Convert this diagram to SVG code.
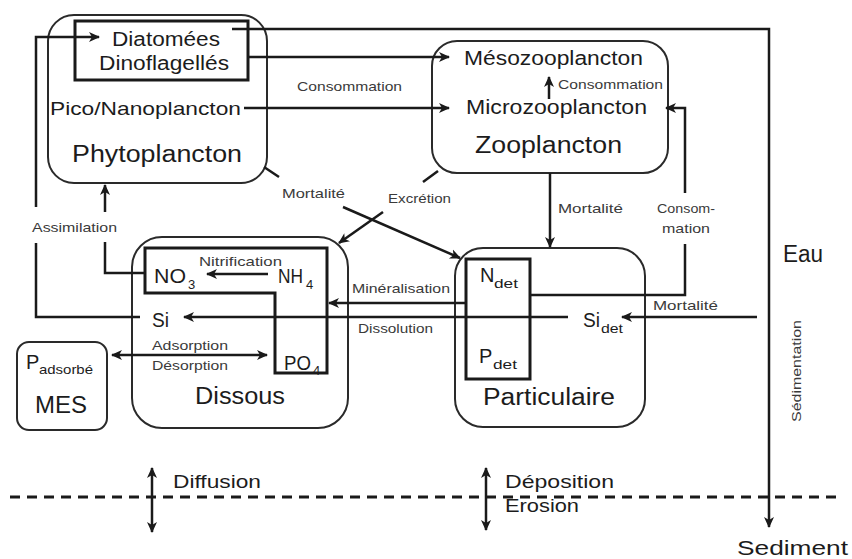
<svg xmlns="http://www.w3.org/2000/svg" width="852" height="559" viewBox="0 0 852 559">
<defs>
<style>
text{font-family:"Liberation Sans",Arial,sans-serif;fill:#1c1c1c}
.big{font-size:23px}
.mid{font-size:20px}
.lbl{font-size:13.5px;fill:#3a3a3a}
.sub{font-size:13px}
.box{stroke:#2a2a2a;stroke-width:2;fill:#fff}
.ibox{stroke:#1a1a1a;stroke-width:3;fill:none}
.ln{stroke:#1a1a1a;stroke-width:2.5;fill:none}
.arr{marker-end:url(#ah)}
.dbl{marker-end:url(#ah);marker-start:url(#ah)}
</style>
<marker id="ah" markerUnits="userSpaceOnUse" markerWidth="12" markerHeight="12" refX="10" refY="5" orient="auto-start-reverse" viewBox="0 0 12 10">
<path d="M0,0 L11,5 L0,10 L3,5 Z" fill="#1a1a1a"/>
</marker>
</defs>
<rect width="852" height="559" fill="#fff"/>

<g id="phytoplancton">
<rect class="box" x="48" y="15" width="219" height="168" rx="26"/>
<rect class="ibox" x="75" y="21" width="173" height="59"/>
<text class="mid" x="112" y="46" textLength="108" lengthAdjust="spacingAndGlyphs">Diatomées</text>
<text class="mid" x="99" y="70" textLength="130" lengthAdjust="spacingAndGlyphs">Dinoflagellés</text>
<text x="50" y="115" style="font-size:18.5px" textLength="191" lengthAdjust="spacingAndGlyphs">Pico/Nanoplancton</text>
<text class="big" x="72" y="162" textLength="170" lengthAdjust="spacingAndGlyphs">Phytoplancton</text>
</g>

<g id="zooplancton">
<rect class="box" x="432" y="41" width="236" height="132" rx="25"/>
<text class="mid" x="464" y="65" textLength="179" lengthAdjust="spacingAndGlyphs">Mésozooplancton</text>
<text class="mid" x="466" y="114" textLength="181" lengthAdjust="spacingAndGlyphs">Microzooplancton</text>
<text class="big" x="475" y="153" textLength="147" lengthAdjust="spacingAndGlyphs">Zooplancton</text>
</g>

<g id="dissous">
<rect class="box" x="132" y="237" width="216" height="191" rx="30"/>
<path class="ibox" d="M145,248 H327 V373 H275 V293 H145 Z"/>
<text class="mid" x="154" y="283" textLength="32" lengthAdjust="spacingAndGlyphs">NO</text>
<text class="sub" x="188" y="289">3</text>
<text class="mid" x="278" y="283" textLength="25" lengthAdjust="spacingAndGlyphs">NH</text>
<text class="sub" x="306" y="289">4</text>
<text class="mid" x="152" y="327" textLength="17" lengthAdjust="spacingAndGlyphs">Si</text>
<text class="mid" x="284" y="370" textLength="27" lengthAdjust="spacingAndGlyphs">PO</text>
<text class="sub" x="313" y="375">4</text>
<text class="big" x="195" y="404" textLength="90" lengthAdjust="spacingAndGlyphs">Dissous</text>
</g>

<g id="particulaire">
<rect class="box" x="455" y="248" width="190" height="179" rx="28"/>
<rect class="ibox" x="466" y="259" width="64" height="120"/>
<text class="mid" x="480" y="282">N</text>
<text class="sub" x="494" y="288" textLength="24" lengthAdjust="spacingAndGlyphs">det</text>
<text class="mid" x="479" y="363">P</text>
<text class="sub" x="493" y="369" textLength="24" lengthAdjust="spacingAndGlyphs">det</text>
<text class="mid" x="583" y="327" textLength="17" lengthAdjust="spacingAndGlyphs">Si</text>
<text class="sub" x="601" y="333" textLength="22" lengthAdjust="spacingAndGlyphs">det</text>
<text class="big" x="483" y="405" textLength="132" lengthAdjust="spacingAndGlyphs">Particulaire</text>
</g>

<g id="mes">
<rect class="box" x="17" y="342" width="90" height="88" rx="12"/>
<text class="mid" x="26" y="369">P</text>
<text class="sub" x="39" y="374" textLength="54" lengthAdjust="spacingAndGlyphs">adsorbé</text>
<text class="big" x="35" y="413" textLength="52" lengthAdjust="spacingAndGlyphs">MES</text>
</g>

<g id="connectors">
<path class="ln" d="M140,317 H36 V243"/>
<path class="ln arr" d="M36,207 V37 H99"/>
<path class="ln" d="M145,273 H105 V242"/>
<path class="ln arr" d="M105,212 V185"/>
<path class="ln arr" d="M232,29 H769 V527"/>
<path class="ln arr" d="M248,57 H449"/>
<path class="ln arr" d="M244,108 H449"/>
<path class="ln arr" d="M549,99 V77"/>
<path class="ln" d="M530,295 H685 V244"/>
<path class="ln arr" d="M685,193 V108 H666"/>
<path class="ln arr" d="M550,173 V247"/>
<path class="ln" d="M264,167 L279,177"/>
<path class="ln arr" d="M343,207 L460,258"/>
<path class="ln" d="M438,171 L423,182"/>
<path class="ln arr" d="M383,212 L339,243"/>
<path class="ln arr" d="M268,274 H207"/>
<path class="ln arr" d="M466,303 H329"/>
<path class="ln arr" d="M568,317 H184"/>
<path class="ln arr" d="M757,317 H622"/>
<path class="ln dbl" d="M112,355 H267"/>
<path class="ln dbl" d="M152,468 V532"/>
<path class="ln dbl" d="M486,468 V530"/>
<path d="M10,497 H840" stroke="#1a1a1a" stroke-width="3" stroke-dasharray="10 7" fill="none"/>
</g>

<g id="labels">
<text class="lbl" x="297" y="91" textLength="105" lengthAdjust="spacingAndGlyphs">Consommation</text>
<text class="lbl" x="558" y="89" style="font-size:13px" textLength="105" lengthAdjust="spacingAndGlyphs">Consommation</text>
<text class="lbl" x="282" y="198" textLength="63" lengthAdjust="spacingAndGlyphs">Mortalité</text>
<text class="lbl" x="388" y="203" textLength="63" lengthAdjust="spacingAndGlyphs">Excrétion</text>
<text class="lbl" x="558" y="213" textLength="65" lengthAdjust="spacingAndGlyphs">Mortalité</text>
<text class="lbl" x="657" y="213" textLength="58" lengthAdjust="spacingAndGlyphs">Consom-</text>
<text class="lbl" x="662" y="233" textLength="48" lengthAdjust="spacingAndGlyphs">mation</text>
<text class="lbl" x="32" y="232" textLength="85" lengthAdjust="spacingAndGlyphs">Assimilation</text>
<text class="lbl" x="199" y="266" textLength="83" lengthAdjust="spacingAndGlyphs">Nitrification</text>
<text class="lbl" x="352" y="293" textLength="98" lengthAdjust="spacingAndGlyphs">Minéralisation</text>
<text class="lbl" x="358" y="333" textLength="75" lengthAdjust="spacingAndGlyphs">Dissolution</text>
<text class="lbl" x="152" y="350" textLength="76" lengthAdjust="spacingAndGlyphs">Adsorption</text>
<text class="lbl" x="152" y="370" textLength="76" lengthAdjust="spacingAndGlyphs">Désorption</text>
<text class="lbl" x="653" y="310" textLength="65" lengthAdjust="spacingAndGlyphs">Mortalité</text>
<text class="big" x="783" y="262" textLength="40" lengthAdjust="spacingAndGlyphs">Eau</text>
<text class="lbl" transform="translate(801,371) rotate(-90)" text-anchor="middle" style="font-size:12px" textLength="102" lengthAdjust="spacingAndGlyphs">Sédimentation</text>
<text x="173" y="488" style="font-size:19px" textLength="88" lengthAdjust="spacingAndGlyphs">Diffusion</text>
<text x="505" y="488" style="font-size:19px" textLength="109" lengthAdjust="spacingAndGlyphs">Déposition</text>
<text x="505" y="512" style="font-size:19px" textLength="74" lengthAdjust="spacingAndGlyphs">Erosion</text>
<text x="737" y="555" style="font-size:21px" textLength="111" lengthAdjust="spacingAndGlyphs">Sediment</text>
</g>
</svg>
